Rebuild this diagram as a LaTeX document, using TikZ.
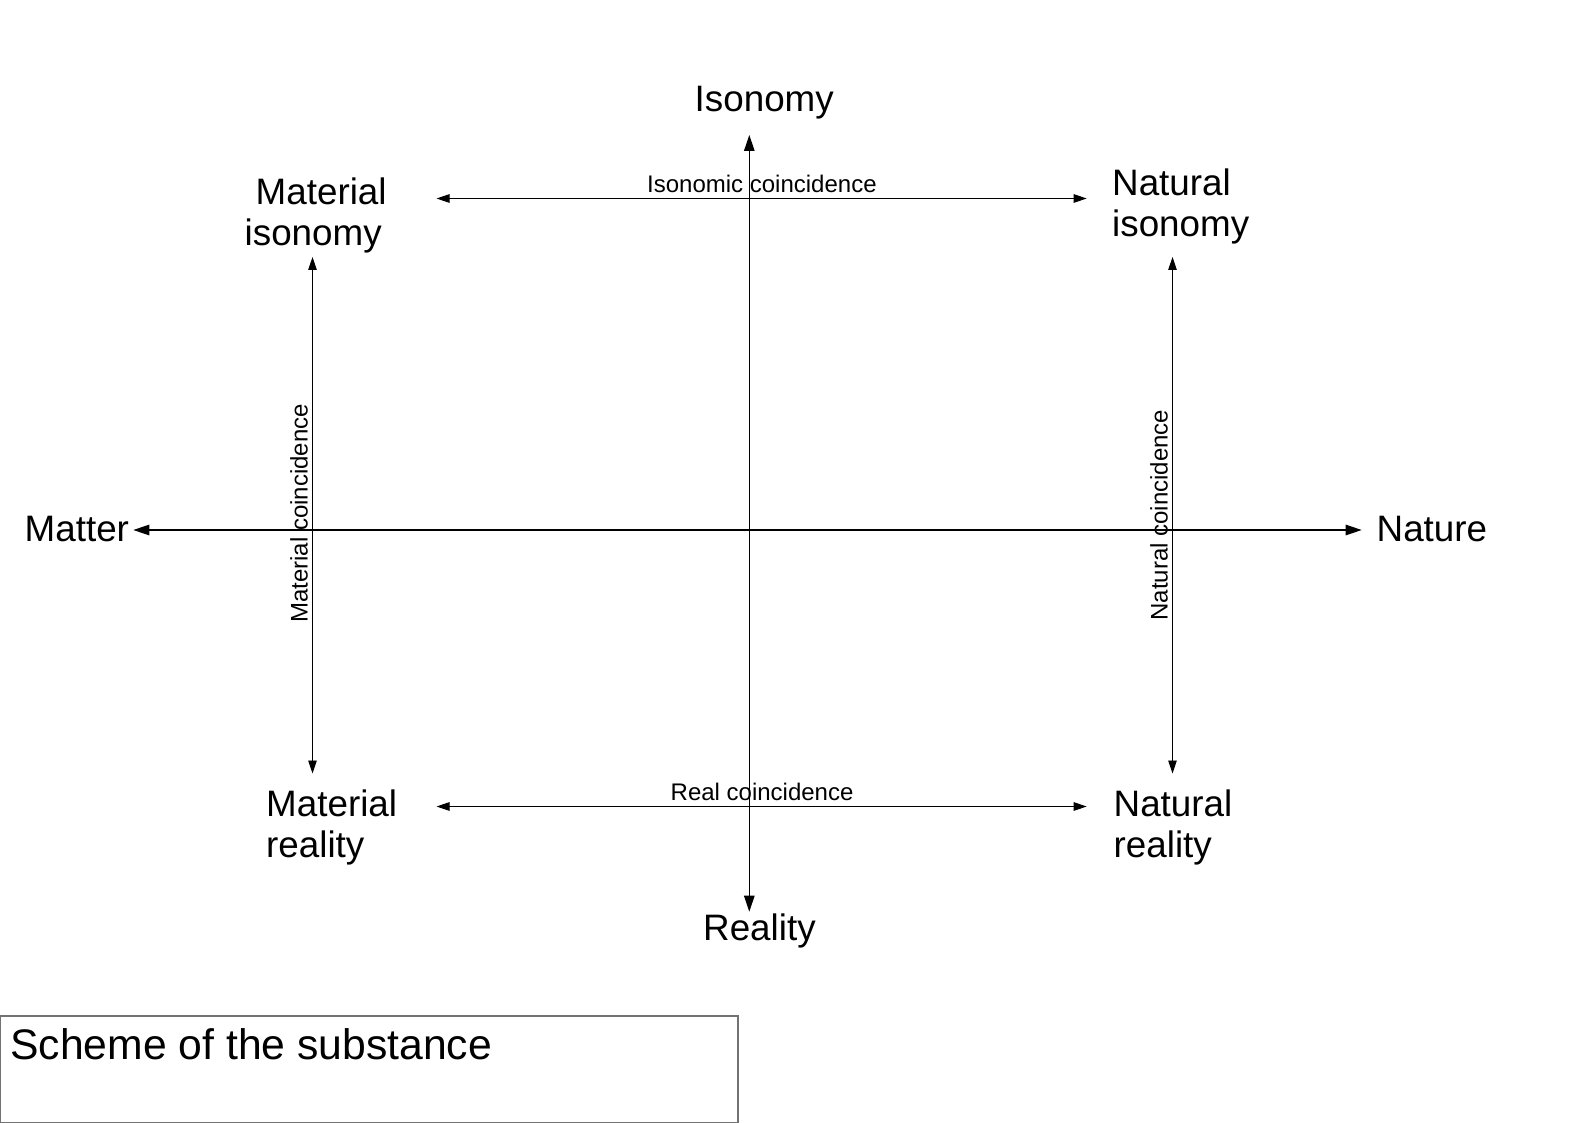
\documentclass[tikz,border=0pt]{standalone}
\usepackage{fontspec}
\setmainfont{Liberation Sans}
\usetikzlibrary{arrows.meta}
\tikzset{
  big/.style={font=\fontsize{36.8pt}{41pt}\selectfont, inner sep=0pt, anchor=base west},
  small/.style={font=\fontsize{24pt}{28pt}\selectfont, inner sep=0pt},
  axis/.style={line width=1.2pt, {Triangle[length=16pt,width=10.5pt]}-{Triangle[length=16pt,width=10.5pt]}},
  coin/.style={line width=0.9pt, {Triangle[length=13pt,width=8.5pt]}-{Triangle[length=13pt,width=8.5pt]}},
}
\newcommand{\twolines}[2]{\begin{tabular}[t]{@{}l@{}}#1\\#2\end{tabular}}
\begin{document}
\begin{tikzpicture}[x=1pt,y=-1pt]
\useasboundingbox (0,0) rectangle (1588,1123);

% axis end points
\coordinate (top) at (749.3,135);
\coordinate (bot) at (749.3,911.7);
\coordinate (lft) at (133.3,530);
\coordinate (rgt) at (1361.7,530);

% coincidence arrow end points
\coordinate (isoL) at (436.5,198.5);
\coordinate (isoR) at (1086.7,198.5);
\coordinate (realL) at (436.5,806.5);
\coordinate (realR) at (1086.7,806.5);
\coordinate (matT) at (312.5,257);
\coordinate (matB) at (312.5,773.5);
\coordinate (natT) at (1172.5,257);
\coordinate (natB) at (1172.5,773.5);

% texts
\node[big] (isonomy) at (694.5,111.7) {Isonomy};
\node[big] (reality) at (703,940.5) {Reality};
\node[big] (matter) at (24.5,541.7) {Matter};
\node[big] (nature) at (1376.5,541.7) {Nature};

\node[big] (matiso) at (244.5,205) {\twolines{\hspace*{11pt}Material}{isonomy}};
\node[big] (natiso) at (1112,196) {\twolines{Natural}{isonomy}};
\node[big] (matreal) at (266,816) {\twolines{Material}{reality}};
\node[big] (natreal) at (1113.5,816) {\twolines{Natural}{reality}};

% axes
\draw[axis] (top) -- (bot);
\draw[axis] (lft) -- (rgt);

% coincidences
\draw[coin] (isoL) -- (isoR);
\draw[coin] (realL) -- (realR);
\draw[coin] (matT) -- (matB);
\draw[coin] (natT) -- (natB);

\node[small, anchor=base west] (isolab) at (647,192.7) {Isonomic coincidence};
\node[small, anchor=base west] (reallab) at (670.5,800.7) {Real coincidence};
\node[small, anchor=base, rotate=90] (matlab) at (307.5,513.5) {Material coincidence};
\node[small, anchor=base, rotate=90] (natlab) at (1167.5,515) {Natural coincidence};

% caption box
\draw[draw=black!55, line width=1.2pt] (0.6,1016) rectangle (738,1122.4);
\node[font=\fontsize{42.7pt}{50pt}\selectfont, inner sep=0pt, anchor=base west] (caption) at (10,1059.4) {Scheme of the substance};
\end{tikzpicture}
\end{document}
